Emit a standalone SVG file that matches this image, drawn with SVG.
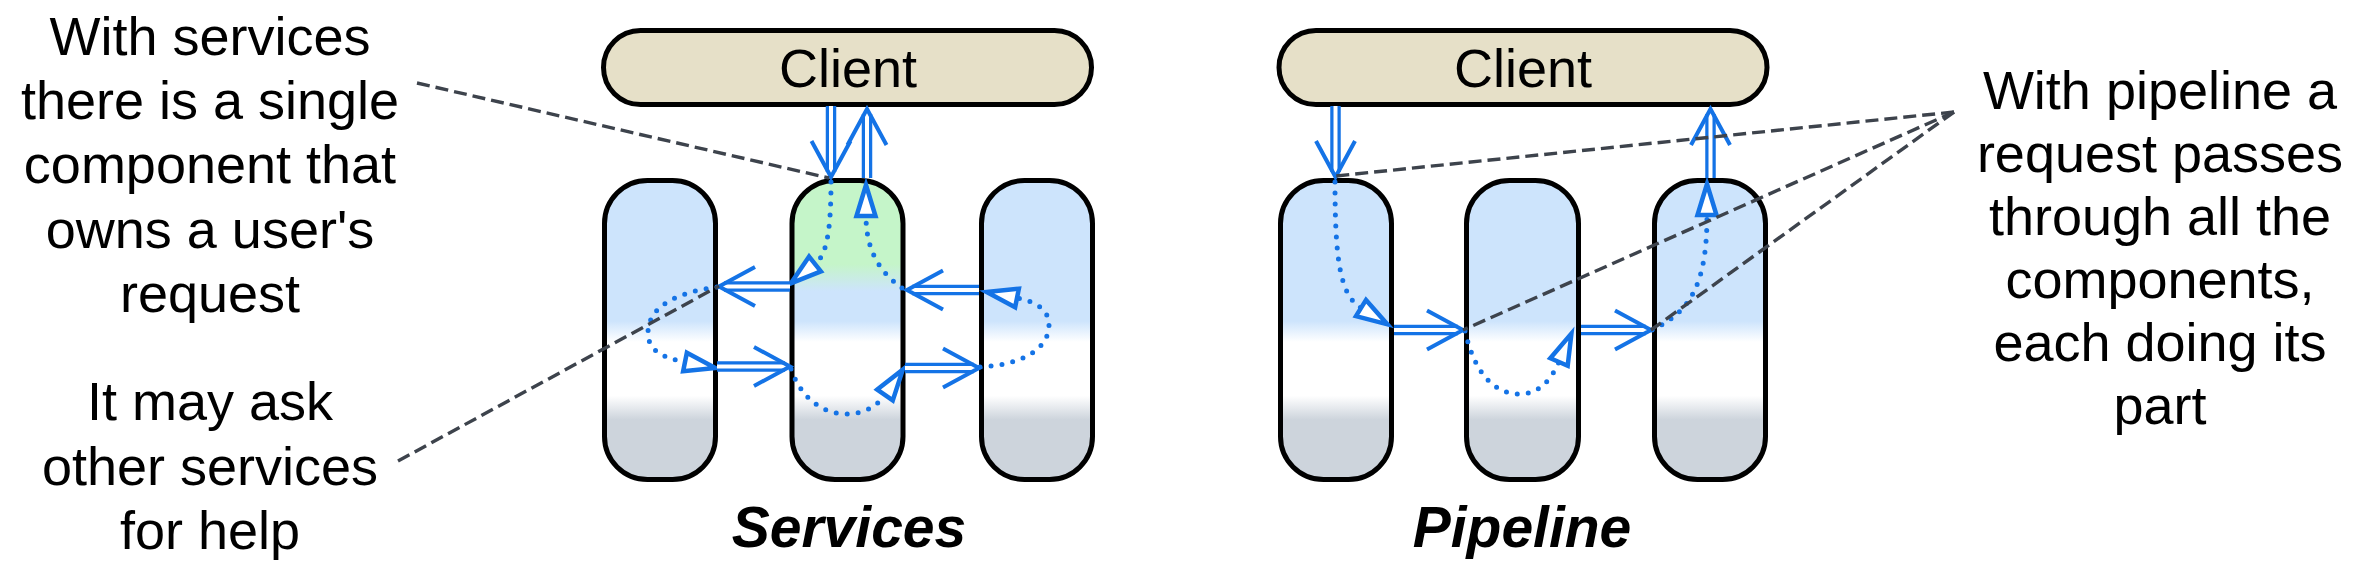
<svg xmlns="http://www.w3.org/2000/svg" width="2363" height="581" viewBox="0 0 2363 581">
<style>
.t{font-family:"Liberation Sans",Arial,sans-serif;font-size:54px;text-anchor:middle;fill:#000}
.ti{font-family:"Liberation Sans",Arial,sans-serif;font-size:57px;font-weight:bold;font-style:italic;text-anchor:middle;fill:#000}
.client{fill:#e6e0c8;stroke:#000;stroke-width:5}
.box{stroke:#000;stroke-width:5}
.dlo{fill:none;stroke:#1473e6;stroke-width:10.5}
.dli{fill:none;stroke:#fff;stroke-width:4}
.dot{fill:none;stroke:#1473e6;stroke-width:5;stroke-linecap:round;stroke-dasharray:0 11}
.dash{fill:none;stroke:#3d434c;stroke-width:3.4;stroke-dasharray:13 6}
</style>
<defs>
<linearGradient id="gSide" x1="0" y1="0" x2="0" y2="1">
<stop offset="0" stop-color="#cde4fc"/><stop offset="0.47" stop-color="#cde4fc"/>
<stop offset="0.54" stop-color="#ffffff"/><stop offset="0.72" stop-color="#ffffff"/>
<stop offset="0.80" stop-color="#cdd4dc"/><stop offset="1" stop-color="#cdd4dc"/>
</linearGradient>
<linearGradient id="gMid" x1="0" y1="0" x2="0" y2="1">
<stop offset="0" stop-color="#c5f5c9"/><stop offset="0.28" stop-color="#c5f5c9"/>
<stop offset="0.37" stop-color="#cde4fc"/><stop offset="0.47" stop-color="#cde4fc"/>
<stop offset="0.54" stop-color="#ffffff"/><stop offset="0.72" stop-color="#ffffff"/>
<stop offset="0.80" stop-color="#cdd4dc"/><stop offset="1" stop-color="#cdd4dc"/>
</linearGradient>
<marker id="vh" markerUnits="userSpaceOnUse" viewBox="-42 -24 48 48" markerWidth="48" markerHeight="48" refX="-5" refY="0" orient="auto" overflow="visible">
<path d="M-36,-19.5 L0,0 L-36,19.5" fill="none" stroke="#1473e6" stroke-width="4"/>
</marker>
<marker id="tri" markerUnits="userSpaceOnUse" viewBox="-4 -16 42 32" markerWidth="42" markerHeight="32" refX="0" refY="0" orient="auto" overflow="visible">
<path d="M0,-9.5 L31,0 L0,9.5 Z" fill="#fff" stroke="#1473e6" stroke-width="4.5"/>
</marker>
</defs>

<g id="note-owner">
<text class="t" x="210" y="55">With services</text>
<text class="t" x="210" y="119">there is a single</text>
<text class="t" x="210" y="183">component that</text>
<text class="t" x="210" y="248">owns a user's</text>
<text class="t" x="210" y="312">request</text>
</g>
<g id="note-help">
<text class="t" x="210" y="420">It may ask</text>
<text class="t" x="210" y="485">other services</text>
<text class="t" x="210" y="549">for help</text>
</g>
<g id="note-pipeline">
<text class="t" x="2160" y="109">With pipeline a</text>
<text class="t" x="2160" y="172">request passes</text>
<text class="t" x="2160" y="235">through all the</text>
<text class="t" x="2160" y="298">components,</text>
<text class="t" x="2160" y="361">each doing its</text>
<text class="t" x="2160" y="424">part</text>
</g>

<g id="client-services">
<rect class="client" x="603.5" y="30.5" width="488" height="74" rx="37"/>
<text class="t" x="848" y="87">Client</text>
</g>
<g id="service-a"><rect class="box" x="604.5" y="180.5" width="111" height="299" rx="43" fill="url(#gSide)"/></g>
<g id="service-b"><rect class="box" x="792" y="180.5" width="111" height="299" rx="43" fill="url(#gMid)"/></g>
<g id="service-c"><rect class="box" x="981.5" y="180.5" width="111" height="299" rx="43" fill="url(#gSide)"/></g>
<g id="title-services"><text class="ti" x="849" y="547">Services</text></g>

<g id="client-pipeline">
<rect class="client" x="1279" y="30.5" width="488" height="74" rx="37"/>
<text class="t" x="1523" y="87">Client</text>
</g>
<g id="stage-a"><rect class="box" x="1280.5" y="180.5" width="111" height="299" rx="43" fill="url(#gSide)"/></g>
<g id="stage-b"><rect class="box" x="1466.5" y="180.5" width="112" height="299" rx="43" fill="url(#gSide)"/></g>
<g id="stage-c"><rect class="box" x="1654.5" y="180.5" width="111" height="299" rx="43" fill="url(#gSide)"/></g>
<g id="title-pipeline"><text class="ti" x="1522" y="547">Pipeline</text></g>

<g id="connectors">
<!-- services dotted flow -->
<path class="dot" d="M831,182 C831,238 825,256 815,264" marker-end="url(#tri)"/>
<path class="dot" d="M717,287 C680,292 648,305 648,333 C648,352 665,358 685,362" marker-end="url(#tri)"/>
<path class="dot" d="M791,369 C800,395 820,414 847,414 C865,414 878,405 885,395" marker-end="url(#tri)"/>
<path class="dot" d="M980,367 C1020,365 1049,350 1049,325 C1049,310 1037,302 1017,298" marker-end="url(#tri)"/>
<path class="dot" d="M902,288 C884,275 866,255 866,216" marker-end="url(#tri)"/>
<!-- services double arrows -->
<path class="dlo" d="M831,106 L831,172"/><path class="dli" d="M831,106 L831,172" marker-end="url(#vh)"/>
<path class="dlo" d="M867,178 L867,114"/><path class="dli" d="M867,178 L867,114" marker-end="url(#vh)"/>
<path class="dlo" d="M790,286.5 L724,286.5"/><path class="dli" d="M790,286.5 L724,286.5" marker-end="url(#vh)"/>
<path class="dlo" d="M717,366.5 L785,366.5"/><path class="dli" d="M717,366.5 L785,366.5" marker-end="url(#vh)"/>
<path class="dlo" d="M905,368 L974,368"/><path class="dli" d="M905,368 L974,368" marker-end="url(#vh)"/>
<path class="dlo" d="M979,290 L912,290"/><path class="dli" d="M979,290 L912,290" marker-end="url(#vh)"/>
<!-- pipeline dotted flow -->
<path class="dot" d="M1335,182 C1335,260 1340,295 1361,308" marker-end="url(#tri)"/>
<path class="dot" d="M1465,331 C1475,375 1495,394 1520,394 C1540,394 1552,378 1559,362" marker-end="url(#tri)"/>
<path class="dot" d="M1652,330 C1690,312 1707,285 1707,215" marker-end="url(#tri)"/>
<!-- pipeline double arrows -->
<path class="dlo" d="M1335.5,106 L1335.5,172"/><path class="dli" d="M1335.5,106 L1335.5,172" marker-end="url(#vh)"/>
<path class="dlo" d="M1394,330 L1458,330"/><path class="dli" d="M1394,330 L1458,330" marker-end="url(#vh)"/>
<path class="dlo" d="M1581,330 L1646,330"/><path class="dli" d="M1581,330 L1646,330" marker-end="url(#vh)"/>
<path class="dlo" d="M1710.5,178 L1710.5,114"/><path class="dli" d="M1710.5,178 L1710.5,114" marker-end="url(#vh)"/>
<!-- annotation leaders -->
<path class="dash" d="M417,83 L829,178"/>
<path class="dash" d="M398,461 L719,286"/>
<path class="dash" d="M1954,112 L1336,176"/>
<path class="dash" d="M1954,112 L1463,330"/>
<path class="dash" d="M1954,112 L1651,330"/>
</g>
</svg>
